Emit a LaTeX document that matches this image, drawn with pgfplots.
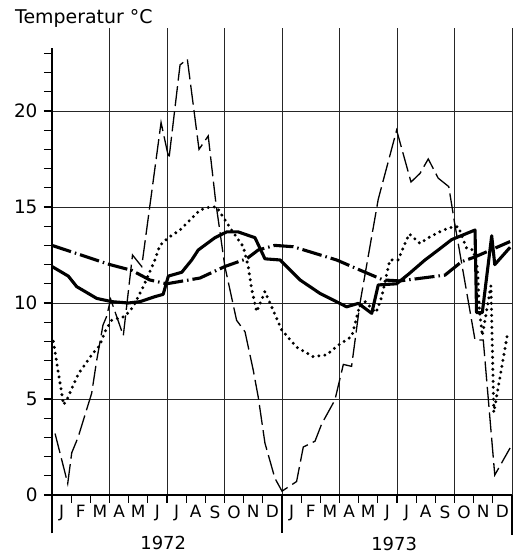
\documentclass[border=0pt]{standalone}
\usepackage{fontspec}
\setmainfont{DejaVu Sans}
\usepackage{pgfplots}
\pgfplotsset{compat=1.18}

\pgfplotstableread{
x y
0.16 3.2
0.82 0.6
1.03 2.2
1.36 3.0
2.07 5.3
2.33 7.0
2.66 8.85
2.85 9.3
3.06 10.2
3.72 8.3
4.2 12.5
4.68 11.9
5.69 19.4
6.1 17.5
6.68 22.4
7.06 22.7
7.67 18.0
8.15 18.7
8.55 15.2
9.02 11.9
9.63 9.1
10.07 8.5
10.5 6.5
10.76 5.1
11.11 2.7
11.63 0.87
12.0 0.2
12.76 0.7
13.11 2.5
13.72 2.8
14.07 3.7
14.76 4.95
15.2 6.8
15.63 6.7
16.07 10.0
17.02 15.4
17.98 19.0
18.73 16.3
19.2 16.75
19.63 17.5
20.15 16.5
20.7 16.06
21.0 14.2
22.07 8.07
22.5 8.07
23.1 1.04
23.9 2.45
}\airtemp

\pgfplotstableread{
x y
0.07 8.0
0.6 4.7
0.77 4.95
1.37 6.3
2.07 7.3
2.5 7.8
2.76 8.5
3.11 9.1
3.8 9.3
4.24 9.8
4.76 10.85
5.37 12.24
5.63 13.0
6.07 13.4
6.68 13.8
7.72 14.84
8.24 15.0
8.59 15.0
9.37 13.8
9.98 12.93
10.24 11.9
10.42 10.7
10.68 9.55
11.11 10.6
11.46 9.8
11.98 8.6
12.76 7.7
13.63 7.2
14.33 7.3
14.93 7.8
15.63 8.25
15.8 8.85
15.98 9.6
16.3 10.1
16.9 9.5
17.2 10.3
17.46 11.5
17.63 12.24
18.07 12.24
18.33 12.9
18.64 13.6
19.2 13.1
19.72 13.45
20.42 13.8
20.94 13.97
21.2 13.97
21.63 12.85
21.98 12.76
22.2 11.8
22.3 9.6
22.45 8.3
22.9 10.9
23.05 4.3
23.75 8.3
}\dotted

\pgfplotstableread{
x y
0 11.9
0.85 11.4
1.29 10.85
1.72 10.6
2.33 10.24
3.11 10.07
3.98 10.0
4.59 10.07
5.37 10.33
5.8 10.45
6.07 11.4
6.77 11.6
7.29 12.24
7.63 12.76
8.5 13.4
9.11 13.7
9.72 13.7
10.59 13.4
11.11 12.3
11.9 12.24
12.94 11.2
13.98 10.5
15.37 9.8
15.98 9.98
16.68 9.46
17.02 10.94
17.98 11.0
18.6 11.5
19.46 12.24
20.15 12.76
20.85 13.3
22.07 13.8
22.15 9.5
22.45 9.5
22.94 13.5
23.1 12.0
23.9 12.9
}\solid

\pgfplotstableread{
x y
0 13.0
3.02 12.0
4.16 11.7
5.1 11.2
5.98 11.0
7.72 11.3
9.02 11.9
10.15 12.3
10.76 12.76
11.63 13.0
12.59 12.93
14.85 12.24
16.1 11.7
17.28 11.2
18.15 11.15
20.5 11.45
21.37 12.15
22.07 12.4
23.9 13.2
}\dashdot

\begin{document}
\begin{tikzpicture}
\begin{axis}[
  scale only axis, width=460bp, height=466.56bp,
  xmin=0, xmax=24, ymin=0, ymax=24.3,
  clip=false,
  axis x line=bottom, axis y line=left,
  x axis line style={-, line width=1.4bp},
  y axis line style={-, line width=1.4bp, shorten >=19.2bp, shorten <=-38.4bp},
  tick align=outside,
  major tick length=8bp, minor tick length=8bp,
  tick style={line width=1.2bp, black},
  xtick={3,6,...,24}, xticklabels={},
  minor xtick={0,...,24},
  ytick={0,5,10,15,20},
  minor ytick={1,...,23},
  xmajorgrids, ymajorgrids,
  major grid style={line width=0.9bp, black!85},
  extra x ticks={0.5,1.5,...,23.5},
  extra x tick labels={J,F,M,A,M,J,J,A,S,O,N,D,J,F,M,A,M,J,J,A,S,O,N,D},
  extra x tick style={grid=none, major tick length=0pt,
     tick label style={font=\fontsize{17}{19}\selectfont, yshift=-7bp}},
  /pgf/number format/assume math mode=true,
  yticklabel style={font=\fontsize{18.5}{20}\selectfont, xshift=-3bp},
]
\path (axis cs:-2.713,-3.125) rectangle (axis cs:24.157,25.78);

\addplot[black, line width=1.3bp, dash pattern=on 20bp off 5.5bp, line join=miter] table[x=x,y=y] {\airtemp};
\addplot[black, line width=3.3bp, dash pattern=on 0bp off 6bp, line cap=round] table[x=x,y=y] {\dotted};
\addplot[black, line width=3.1bp, line join=round] table[x=x,y=y] {\solid};
\addplot[black, line width=3.1bp, dash pattern=on 20bp off 4bp on 1.5bp off 4bp] table[x=x,y=y] {\dashdot};

\draw[line width=1.4bp] (axis cs:12,0) -- (axis cs:12,-2.0);
\draw[line width=1.6bp] (axis cs:24,0) -- (axis cs:24,-2.1);
\node[font=\fontsize{18}{20}\selectfont] at (axis cs:5.8,-2.5) {1972};
\node[font=\fontsize{18}{20}\selectfont] at (axis cs:17.85,-2.55) {1973};
\node[anchor=west, font=\fontsize{19}{21}\selectfont, inner sep=0pt] at (axis cs:-1.93,24.84) {Temperatur °C};
\end{axis}
\end{tikzpicture}
\end{document}
